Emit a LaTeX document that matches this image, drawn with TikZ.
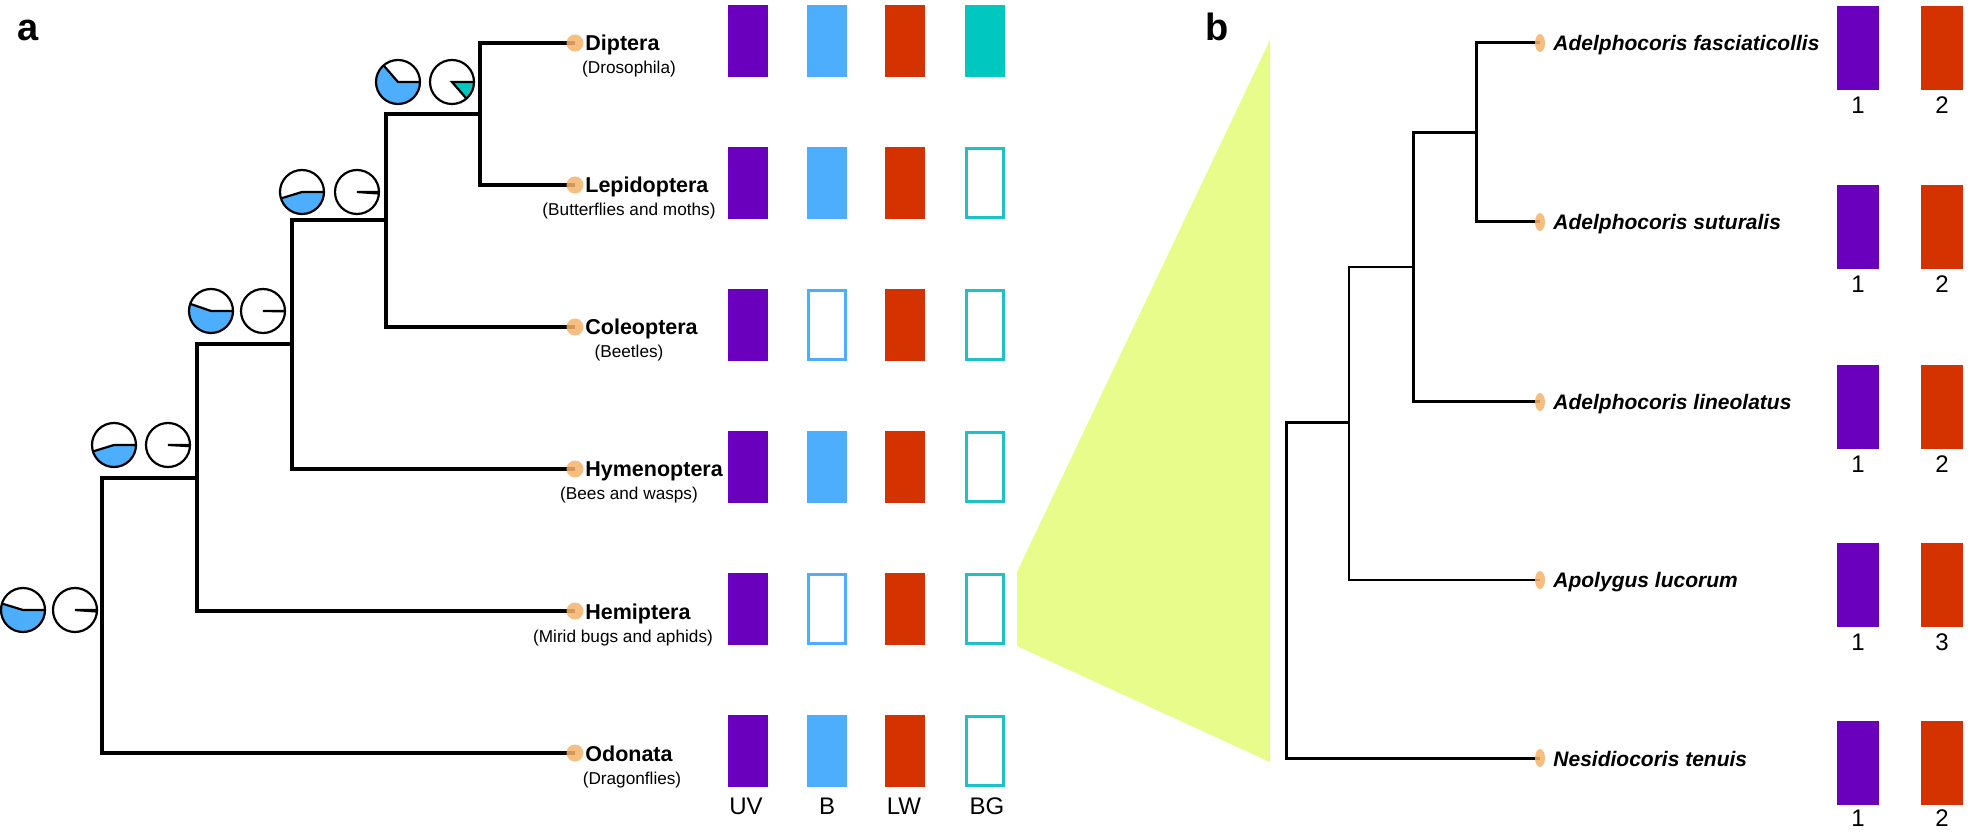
\documentclass[tikz,border=0pt]{standalone}
\usepackage{fontspec}
\setmainfont{Liberation Sans}
\usetikzlibrary{shapes.geometric,backgrounds}
\definecolor{uvc}{RGB}{106,0,190}
\definecolor{bc}{RGB}{77,174,254}
\definecolor{lwc}{RGB}{212,51,0}
\definecolor{bgc}{RGB}{0,200,192}
\definecolor{bgo}{RGB}{28,195,198}
\definecolor{yelc}{RGB}{232,252,140}
\definecolor{dotc}{RGB}{245,179,106}
\newcommand{\bluepie}[3]{%
  \fill[bc] (#1,#2) -- ++(0:22) arc[start angle=0,end angle=#3,radius=22] -- cycle;
  \draw[pieline] (#1,#2) ++(#3:22) -- (#1,#2) -- ++(0:22);
  \draw[pieline] (#1,#2) circle[radius=22];
}
\newcommand{\slpie}[4]{%
  \fill[#3] (#1,#2) -- ++(0:22) arc[start angle=0,end angle=#4,radius=22] -- cycle;
  \draw[pieline] (#1,#2) ++(#4:22) -- (#1,#2) -- ++(0:22);
  \draw[pieline] (#1,#2) circle[radius=22];
}
\begin{document}
\begin{tikzpicture}[x=0.5pt,y=-0.5pt,
  tl/.style={line width=2pt},
  tlb/.style={line width=1.5pt},
  tlthin/.style={line width=1.1pt},
  pieline/.style={line width=1.1pt},
  dot/.style={circle, fill=dotc, fill opacity=0.85, inner sep=0pt, minimum size=8.5pt},
  bdot/.style={ellipse, fill=dotc, fill opacity=0.85, inner sep=0pt, minimum width=5pt, minimum height=9pt},
  lab/.style={font=\fontsize{10.75pt}{12pt}\selectfont\bfseries, inner sep=0pt, anchor=base west},
  sublab/.style={font=\fontsize{8.6pt}{10pt}\selectfont, inner sep=0pt, anchor=base},
  blab/.style={font=\fontsize{10.5pt}{12pt}\selectfont\bfseries\itshape, inner sep=0pt, anchor=base west},
  axlab/.style={font=\fontsize{12pt}{14pt}\selectfont, inner sep=0pt},
  panel/.style={font=\fontsize{19pt}{22pt}\selectfont\bfseries, inner sep=0pt, anchor=base west},
  bar/.style={rectangle, inner sep=0pt, minimum width=20pt, minimum height=36pt},
  fbar/.style={bar, fill=#1},
  tbar/.style={rectangle, inner sep=0pt, minimum width=21pt, minimum height=42pt, fill=#1},
  obar/.style={bar, draw=#1, line width=1.5pt, minimum width=18.5pt, minimum height=34.5pt},
]
\useasboundingbox (0,0) rectangle (1969,833);
\begin{scope}[on background layer]
\fill[white] (0,0) rectangle (1969,833);
\end{scope}

% panel labels
\node[panel] (pa) at (17,41) {a};
\node[panel] (pb) at (1205,41) {b};

% zoom polygon
\fill[yelc] (1017,572) -- (1270,40) -- (1270,762) -- (1017,646) -- cycle;

% ---------- panel a: leaves ----------
\node[dot] (dip) at (575,43) {};
\node[dot] (lep) at (575,185) {};
\node[dot] (col) at (575,327) {};
\node[dot] (hym) at (575,469) {};
\node[dot] (hem) at (575,611) {};
\node[dot] (odo) at (575,753) {};

\coordinate (n5) at (480,114);
\coordinate (n4) at (386,220);
\coordinate (n3) at (292,344);
\coordinate (n2) at (197,478);
\coordinate (n1) at (102,615);

\begin{scope}[on background layer]
\draw[tl] (n5) |- (dip.center);
\draw[tl] (n5) |- (lep.center);
\draw[tl] (n4) |- (n5);
\draw[tl] (n4) |- (col.center);
\draw[tl] (n3) |- (n4);
\draw[tl] (n3) |- (hym.center);
\draw[tl] (n2) |- (n3);
\draw[tl] (n2) |- (hem.center);
\draw[tl] (n1) |- (n2);
\draw[tl] (n1) |- (odo.center);
\end{scope}

\node[lab] (dipT) at (585,51) {Diptera};
\node[sublab] (dipS) at (629,74) {(Drosophila)};
\node[lab] (lepT) at (585,193) {Lepidoptera};
\node[sublab] (lepS) at (629,216) {(Butterflies and moths)};
\node[lab] (colT) at (585,335) {Coleoptera};
\node[sublab] (colS) at (629,358) {(Beetles)};
\node[lab] (hymT) at (585,477) {Hymenoptera};
\node[sublab] (hymS) at (629,500) {(Bees and wasps)};
\node[lab] (hemT) at (585,619) {Hemiptera};
\node[sublab] (hemS) at (623,642) {(Mirid bugs and aphids)};
\node[lab] (odoT) at (585,761) {Odonata};
\node[sublab] (odoS) at (632,784) {(Dragonflies)};

% pies
\bluepie{23}{610}{197}  \slpie{75}{610}{black}{4}
\bluepie{114}{445}{163} \slpie{168}{445}{black}{3}
\bluepie{211}{311}{199} \slpie{263}{311}{black}{1}
\bluepie{302}{192}{163} \slpie{357}{192}{bgc}{4}
\bluepie{398}{82}{229}  \slpie{452}{82}{bgc}{49}

% bars panel a
\node[fbar=uvc] (dipUV) at (748,41) {};
\node[fbar=bc]  (dipB)  at (826.5,41) {};
\node[fbar=lwc] (dipLW) at (905,41) {};
\node[fbar=bgc] (dipBG) at (984.5,41) {};

\node[fbar=uvc] (lepUV) at (748,183) {};
\node[fbar=bc]  (lepB)  at (826.5,183) {};
\node[fbar=lwc] (lepLW) at (905,183) {};
\node[obar=bgo] (lepBG) at (984.5,183) {};

\node[fbar=uvc] (colUV) at (748,325) {};
\node[obar=bc]  (colB)  at (826.5,325) {};
\node[fbar=lwc] (colLW) at (905,325) {};
\node[obar=bgo] (colBG) at (984.5,325) {};

\node[fbar=uvc] (hymUV) at (748,467) {};
\node[fbar=bc]  (hymB)  at (826.5,467) {};
\node[fbar=lwc] (hymLW) at (905,467) {};
\node[obar=bgo] (hymBG) at (984.5,467) {};

\node[fbar=uvc] (hemUV) at (748,609) {};
\node[obar=bc]  (hemB)  at (826.5,609) {};
\node[fbar=lwc] (hemLW) at (905,609) {};
\node[obar=bgo] (hemBG) at (984.5,609) {};

\node[fbar=uvc] (odoUV) at (748,751) {};
\node[fbar=bc]  (odoB)  at (826.5,751) {};
\node[fbar=lwc] (odoLW) at (905,751) {};
\node[obar=bgo] (odoBG) at (984.5,751) {};

\node[axlab] (xUV) at (746,806) {UV};
\node[axlab] (xB)  at (827,806) {B};
\node[axlab] (xLW) at (904,806) {LW};
\node[axlab] (xBG) at (987,806) {BG};

% ---------- panel b ----------
\node[bdot] (afa) at (1540,43) {};
\node[bdot] (asu) at (1540,222) {};
\node[bdot] (ali) at (1540,402) {};
\node[bdot] (alu) at (1540,580) {};
\node[bdot] (nte) at (1540,758) {};

\coordinate (b1) at (1476,133);
\coordinate (b2) at (1413,267);
\coordinate (b3) at (1349,423);
\coordinate (b4) at (1286,590);

\begin{scope}[on background layer]
\draw[tlb] (b1) |- (afa.center);
\draw[tlb] (b1) |- (asu.center);
\draw[tlb] (b2) |- (b1);
\draw[tlb] (b2) |- (ali.center);
\draw[tlthin] (b3) |- (b2);
\draw[tlthin] (b3) |- (alu.center);
\draw[tlb] (b4) |- (b3);
\draw[tlb] (b4) |- (nte.center);
\end{scope}

\node[blab] (afaT) at (1553,51) {Adelphocoris fasciaticollis};
\node[blab] (asuT) at (1553,230) {Adelphocoris suturalis};
\node[blab] (aliT) at (1553,410) {Adelphocoris lineolatus};
\node[blab] (aluT) at (1553,588) {Apolygus lucorum};
\node[blab] (nteT) at (1553,766) {Nesidiocoris tenuis};

\node[tbar=uvc] (afaU) at (1858,48) {};
\node[tbar=lwc] (afaL) at (1942,48) {};
\node[tbar=uvc] (asuU) at (1858,227) {};
\node[tbar=lwc] (asuL) at (1942,227) {};
\node[tbar=uvc] (aliU) at (1858,407) {};
\node[tbar=lwc] (aliL) at (1942,407) {};
\node[tbar=uvc] (aluU) at (1858,585) {};
\node[tbar=lwc] (aluL) at (1942,585) {};
\node[tbar=uvc] (nteU) at (1858,763) {};
\node[tbar=lwc] (nteL) at (1942,763) {};

\node[axlab] (afaN1) at (1858,105) {1};
\node[axlab] (afaN2) at (1942,105) {2};
\node[axlab] (asuN1) at (1858,284) {1};
\node[axlab] (asuN2) at (1942,284) {2};
\node[axlab] (aliN1) at (1858,464) {1};
\node[axlab] (aliN2) at (1942,464) {2};
\node[axlab] (aluN1) at (1858,642) {1};
\node[axlab] (aluN2) at (1942,642) {3};
\node[axlab] (nteN1) at (1858,818) {1};
\node[axlab] (nteN2) at (1942,818) {2};
\end{tikzpicture}
\end{document}
